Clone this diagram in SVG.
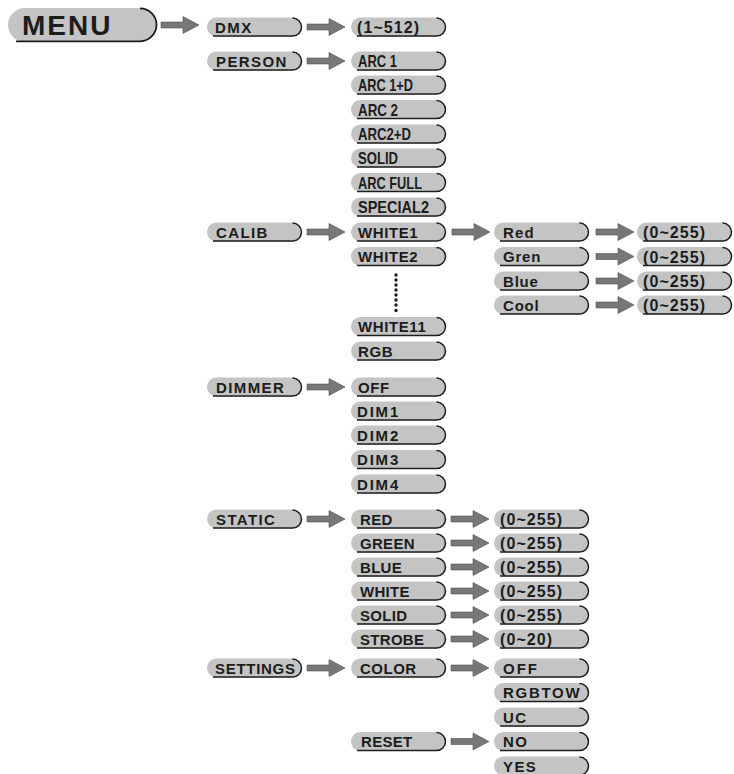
<svg xmlns="http://www.w3.org/2000/svg" xmlns:xlink="http://www.w3.org/1999/xlink" width="734" height="774" viewBox="0 0 734 774">
<style>
.bf{fill:#c4c4c4}
.bs{fill:none;stroke:#1e1e1e;stroke-width:1.5}
.t{font-family:"Liberation Sans",Arial,sans-serif;font-weight:bold;font-size:15px;letter-spacing:1.4px;fill:#1c1c1c}
.s{letter-spacing:0.3px}
.w{letter-spacing:0.6px}
.n{font-family:"Liberation Sans",Arial,sans-serif;font-weight:bold;font-size:16.5px;fill:#1c1c1c}
.v{font-family:"Liberation Sans",Arial,sans-serif;font-weight:bold;font-size:16px;letter-spacing:1.1px;fill:#1c1c1c}
.m{font-family:"Liberation Sans",Arial,sans-serif;font-weight:bold;font-size:15px;letter-spacing:0.8px;fill:#1c1c1c}
.big{font-family:"Liberation Sans",Arial,sans-serif;font-weight:bold;font-size:28px;letter-spacing:2px;fill:#1c1c1c}
.a{fill:#777;stroke:#505050;stroke-width:0.6}
.dot{fill:#1c1c1c}
</style>
<defs>
<g id="b"><rect width="95" height="19" rx="9.5" class="bf"/><path d="M6 18.6 H85.5 A9 9 0 0 0 85.5 0.6" class="bs"/></g>
<path id="ar" d="M0 -3 H22 V-8.5 L38 0 L22 8.5 V3 H0 Z" class="a"/>
</defs>

<g id="connectors">
<use href="#ar" x="161" y="25"/>
<use href="#ar" x="307" y="27"/>
<use href="#ar" x="307" y="61"/>
<use href="#ar" x="307" y="232"/>
<use href="#ar" x="452" y="232"/>
<use href="#ar" x="596" y="232"/>
<use href="#ar" x="596" y="256.5"/>
<use href="#ar" x="596" y="281"/>
<use href="#ar" x="596" y="305"/>
<use href="#ar" x="307" y="387"/>
<use href="#ar" x="307" y="519"/>
<use href="#ar" x="451" y="519"/>
<use href="#ar" x="451" y="543"/>
<use href="#ar" x="451" y="567"/>
<use href="#ar" x="451" y="591"/>
<use href="#ar" x="451" y="615"/>
<use href="#ar" x="451" y="639"/>
<use href="#ar" x="307" y="668"/>
<use href="#ar" x="451" y="668"/>
<use href="#ar" x="451" y="741.5"/>
</g>

<g id="menu">
<rect x="8" y="8" width="149" height="34" rx="17" class="bf"/>
<path d="M16 41.3 H140 A16.5 16.5 0 0 0 140 8.3" class="bs" style="stroke-width:1.8"/>
<text x="22" y="35" class="big">MENU</text>
</g>

<g id="dmx"><use href="#b" x="207" y="17.5"/><text x="215" y="32.5" class="t">DMX</text></g>
<g id="dmx-range"><use href="#b" x="351" y="17.5"/><text x="357" y="33" class="v">(1~512)</text></g>

<g id="person"><use href="#b" x="207" y="51.5"/><text x="216" y="66.5" class="t">PERSON</text></g>
<g id="arc1"><use href="#b" x="351" y="51.5"/><text x="358" y="67" class="n" textLength="39" lengthAdjust="spacingAndGlyphs">ARC 1</text></g>
<g id="arc1d"><use href="#b" x="351" y="75.5"/><text x="358" y="91" class="n" textLength="55" lengthAdjust="spacingAndGlyphs">ARC 1+D</text></g>
<g id="arc2"><use href="#b" x="351" y="100"/><text x="358" y="115.5" class="n" textLength="40" lengthAdjust="spacingAndGlyphs">ARC 2</text></g>
<g id="arc2d"><use href="#b" x="351" y="124.5"/><text x="358" y="140" class="n" textLength="53" lengthAdjust="spacingAndGlyphs">ARC2+D</text></g>
<g id="solid-p"><use href="#b" x="351" y="148.5"/><text x="358" y="164" class="n" textLength="40" lengthAdjust="spacingAndGlyphs">SOLID</text></g>
<g id="arcfull"><use href="#b" x="351" y="173"/><text x="358" y="188.5" class="n" textLength="64" lengthAdjust="spacingAndGlyphs">ARC FULL</text></g>
<g id="special2"><use href="#b" x="351" y="197.5"/><text x="358" y="213" class="n" textLength="71" lengthAdjust="spacingAndGlyphs">SPECIAL2</text></g>

<g id="calib"><use href="#b" x="207" y="222.5"/><text x="216" y="237.5" class="t">CALIB</text></g>
<g id="white1"><use href="#b" x="351" y="222.5"/><text x="358" y="237.5" class="t w">WHITE1</text></g>
<g id="white2"><use href="#b" x="351" y="247"/><text x="358" y="262" class="t w">WHITE2</text></g>
<g id="ellipsis">
<circle cx="396" cy="275" r="1.7" class="dot"/><circle cx="396" cy="280" r="1.7" class="dot"/><circle cx="396" cy="285" r="1.7" class="dot"/><circle cx="396" cy="290" r="1.7" class="dot"/><circle cx="396" cy="295" r="1.7" class="dot"/><circle cx="396" cy="300" r="1.7" class="dot"/><circle cx="396" cy="305" r="1.7" class="dot"/><circle cx="396" cy="310.5" r="1.7" class="dot"/>
</g>
<g id="white11"><use href="#b" x="351" y="317"/><text x="358" y="332" class="t w">WHITE11</text></g>
<g id="rgb"><use href="#b" x="351" y="341.5"/><text x="358" y="356.5" class="t w">RGB</text></g>

<g id="red-c"><use href="#b" x="494" y="222.5"/><text x="503" y="237.5" class="m" style="letter-spacing:1.2px">Red</text></g>
<g id="gren-c"><use href="#b" x="494" y="247"/><text x="503" y="262" class="m">Gren</text></g>
<g id="blue-c"><use href="#b" x="494" y="271.5"/><text x="503" y="286.5" class="m">Blue</text></g>
<g id="cool-c"><use href="#b" x="494" y="295.5"/><text x="503" y="310.5" class="m">Cool</text></g>
<g id="red-c-v"><use href="#b" x="637" y="222.5"/><text x="643" y="238" class="v">(0~255)</text></g>
<g id="gren-c-v"><use href="#b" x="637" y="247"/><text x="643" y="262.5" class="v">(0~255)</text></g>
<g id="blue-c-v"><use href="#b" x="637" y="271.5"/><text x="643" y="287" class="v">(0~255)</text></g>
<g id="cool-c-v"><use href="#b" x="637" y="295.5"/><text x="643" y="311" class="v">(0~255)</text></g>

<g id="dimmer"><use href="#b" x="207" y="377.5"/><text x="216" y="392.5" class="t">DIMMER</text></g>
<g id="off-d"><use href="#b" x="351" y="377.5"/><text x="358" y="392.5" class="t w">OFF</text></g>
<g id="dim1"><use href="#b" x="351" y="401.5"/><text x="357" y="416.5" class="t" style="letter-spacing:1.8px">DIM1</text></g>
<g id="dim2"><use href="#b" x="351" y="425.5"/><text x="357" y="440.5" class="t" style="letter-spacing:1.8px">DIM2</text></g>
<g id="dim3"><use href="#b" x="351" y="450"/><text x="357" y="465" class="t" style="letter-spacing:1.8px">DIM3</text></g>
<g id="dim4"><use href="#b" x="351" y="474.5"/><text x="357" y="489.5" class="t" style="letter-spacing:1.8px">DIM4</text></g>

<g id="static"><use href="#b" x="207" y="509.5"/><text x="216" y="524.5" class="t">STATIC</text></g>
<g id="red-s"><use href="#b" x="351" y="509.5"/><text x="360" y="524.5" class="t s">RED</text></g>
<g id="green-s"><use href="#b" x="351" y="533.5"/><text x="360" y="548.5" class="t s">GREEN</text></g>
<g id="blue-s"><use href="#b" x="351" y="557.5"/><text x="360" y="572.5" class="t s">BLUE</text></g>
<g id="white-s"><use href="#b" x="351" y="581.5"/><text x="360" y="596.5" class="t s">WHITE</text></g>
<g id="solid-s"><use href="#b" x="351" y="605.5"/><text x="360" y="620.5" class="t s">SOLID</text></g>
<g id="strobe-s"><use href="#b" x="351" y="629.5"/><text x="360" y="644.5" class="t s">STROBE</text></g>
<g id="red-s-v"><use href="#b" x="494" y="509.5"/><text x="500" y="525" class="v">(0~255)</text></g>
<g id="green-s-v"><use href="#b" x="494" y="533.5"/><text x="500" y="549" class="v">(0~255)</text></g>
<g id="blue-s-v"><use href="#b" x="494" y="557.5"/><text x="500" y="573" class="v">(0~255)</text></g>
<g id="white-s-v"><use href="#b" x="494" y="581.5"/><text x="500" y="597" class="v">(0~255)</text></g>
<g id="solid-s-v"><use href="#b" x="494" y="605.5"/><text x="500" y="621" class="v">(0~255)</text></g>
<g id="strobe-s-v"><use href="#b" x="494" y="629.5"/><text x="500" y="645" class="v">(0~20)</text></g>

<g id="settings"><use href="#b" x="207" y="658.5"/><text x="215" y="673.5" class="t" style="letter-spacing:0.7px">SETTINGS</text></g>
<g id="color"><use href="#b" x="351" y="658.5"/><text x="360" y="673.5" class="t" style="letter-spacing:0.5px">COLOR</text></g>
<g id="off-c"><use href="#b" x="494" y="658.5"/><text x="503" y="673.5" class="t" style="letter-spacing:2px">OFF</text></g>
<g id="rgbtow"><use href="#b" x="494" y="683"/><text x="503" y="698" class="t" style="letter-spacing:1.7px">RGBTOW</text></g>
<g id="uc"><use href="#b" x="494" y="707.5"/><text x="503" y="722.5" class="t">UC</text></g>
<g id="reset"><use href="#b" x="351" y="732"/><text x="361" y="747" class="t s">RESET</text></g>
<g id="no"><use href="#b" x="494" y="732"/><text x="503" y="747" class="t">NO</text></g>
<g id="yes"><use href="#b" x="494" y="756.5"/><text x="503" y="771.5" class="t">YES</text></g>
</svg>
